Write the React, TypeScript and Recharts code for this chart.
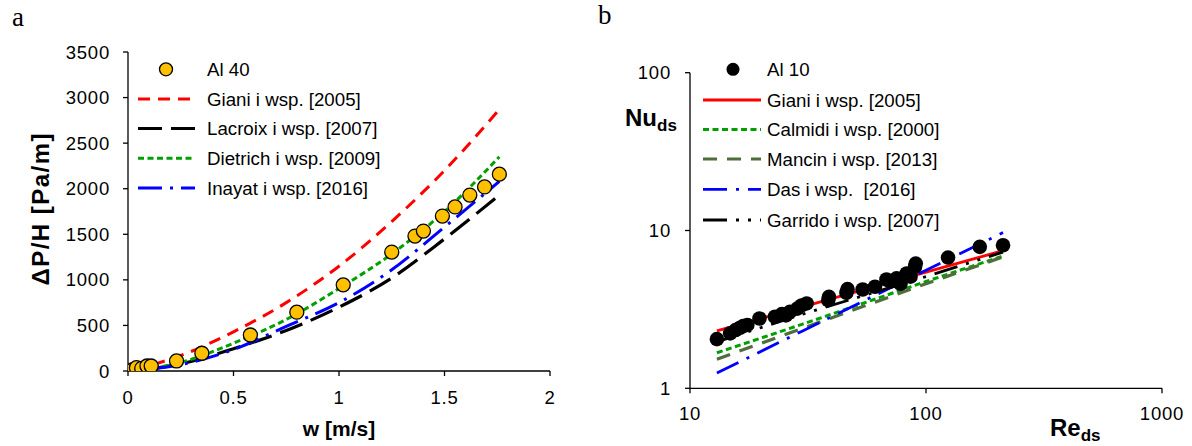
import React from 'react';
import { ComposedChart, Line, Scatter, XAxis, YAxis, Legend, Label } from 'recharts';

const FONT = '"Liberation Sans", Arial, sans-serif';

// ---------- Panel a : pressure drop ----------
const al40W = [0.02, 0.04, 0.065, 0.09, 0.11, 0.23, 0.35, 0.58, 0.8, 1.02, 1.25, 1.36, 1.4, 1.49, 1.55, 1.62, 1.69, 1.76];
const al40DP = [11, 36, 29, 55, 55, 110, 195, 395, 645, 945, 1305, 1480, 1535, 1700, 1800, 1930, 2020, 2160];
const corrW = [0.12, 0.25, 0.5, 0.75, 1.0, 1.25, 1.5, 1.76];
const gianiDP = [70, 170, 430, 750, 1150, 1640, 2200, 2870];
const lacroixDP = [25, 78, 245, 445, 700, 1020, 1450, 1930];
const dietrichDP = [32, 95, 305, 565, 905, 1285, 1750, 2350];
const inayatDP = [22, 70, 235, 490, 750, 1110, 1580, 2080];
const wTicks = [0, 0.5, 1, 1.5, 2];
const dpTicks = [0, 500, 1000, 1500, 2000, 2500, 3000, 3500];

// ---------- Panel b : Nusselt ----------
const al10Re = [13.0, 14.8, 15.6, 16.3, 16.8, 17.5, 19.7, 22.9, 24.5, 25.5, 26.5, 28.5, 29.7, 31.2, 38.5, 38.8, 46.0, 46.5, 53.9, 60.8, 68.0, 70.5, 75.0, 78.0, 82.8, 86.0, 89.8, 90.5, 124, 169, 212];
const al10Nu = [2.05, 2.23, 2.34, 2.42, 2.48, 2.52, 2.77, 2.84, 2.95, 2.9, 3.05, 3.2, 3.35, 3.45, 3.62, 3.8, 4.03, 4.25, 4.23, 4.4, 4.89, 4.75, 4.97, 4.6, 5.34, 5.1, 5.88, 6.17, 6.74, 7.88, 8.06];
const corrRe = [13, 30, 100, 212];
const gianiNu = [2.31, 3.28, 5.45, 7.45];
const calmidiNu = [1.68, 2.55, 4.75, 6.9];
const mancinNu = [1.53, 2.4, 4.6, 6.8];
const dasNu = [1.25, 2.31, 5.6, 9.7];
const garridoNu = [1.97, 2.95, 5.1, 7.3];
const reTicks = [10, 100, 1000];
const nuTicks = [1, 10, 100];

const pts = (xs: number[], ys: number[]) => xs.map((x, i) => ({ x, y: ys[i] }));

const leftSeries = [
  { name: 'Giani i wsp. [2005]', color: '#FF0000', dash: '12 8', width: 3, data: pts(corrW, gianiDP) },
  { name: 'Lacroix i wsp. [2007]', color: '#000000', dash: '24 9', width: 3.2, data: pts(corrW, lacroixDP) },
  { name: 'Dietrich i wsp. [2009]', color: '#00A000', dash: '6 3.5', width: 3, data: pts(corrW, dietrichDP) },
  { name: 'Inayat i wsp. [2016]', color: '#0000FF', dash: '24 8 3 8', width: 3, data: pts(corrW, inayatDP) },
];

const rightSeries = [
  { name: 'Giani i wsp. [2005]', color: '#FF0000', dash: undefined as string | undefined, width: 2.8, data: pts(corrRe, gianiNu) },
  { name: 'Calmidi i wsp. [2000]', color: '#00A000', dash: '6 3.5', width: 3, data: pts(corrRe, calmidiNu) },
  { name: 'Mancin i wsp. [2013]', color: '#4E6E3B', dash: '14 10', width: 3.2, data: pts(corrRe, mancinNu) },
  { name: 'Das i wsp.  [2016]', color: '#0000FF', dash: '24 9 3 9', width: 2.8, data: pts(corrRe, dasNu) },
  { name: 'Garrido i wsp. [2007]', color: '#000000', dash: '24 9 3 9 3 9', width: 2.8, data: pts(corrRe, garridoNu) },
];

const al40 = pts(al40W, al40DP);
const al10 = pts(al10Re, al10Nu);

const tickText = { fontFamily: FONT, fontSize: 18.5, fill: '#000', letterSpacing: 0.8 } as const;

const LeftYTick = (p: any) => (
  <text x={p.x} y={p.y} dy={6.5} textAnchor="end" {...tickText}>{p.payload.value}</text>
);
const LeftXTick = (p: any) => (
  <text x={p.x} y={p.y} dy={18} textAnchor="middle" {...tickText}>{p.payload.value}</text>
);
const RightYTick = (p: any) => (
  <text x={p.x} y={p.y} dy={6.5} textAnchor="end" {...tickText}>{p.payload.value}</text>
);
const RightXTick = (p: any) => (
  <text x={p.x} y={p.y} dy={17} textAnchor="middle" {...tickText}>{p.payload.value}</text>
);

const GoldDot = (p: any) => (
  <circle cx={p.cx} cy={p.cy} r={7} fill="#FFC000" stroke="#000" strokeWidth={1.3} />
);
const BlackDot = (p: any) => <circle cx={p.cx} cy={p.cy} r={7.3} fill="#000" />;

const legendText = { fontFamily: FONT, fontSize: 18.7, fill: '#000' } as const;

const LeftLegend = () => {
  const rows = [19.3, 49, 78.5, 108.3, 138];
  return (
    <svg width={260} height={160} style={{ overflow: 'visible', display: 'block' }}>
      <circle cx={36} cy={rows[0]} r={6.5} fill="#FFC000" stroke="#000" strokeWidth={1.3} />
      <text x={77} y={rows[0] + 6.5} {...legendText}>Al 40</text>
      {leftSeries.map((s, i) => (
        <g key={s.name}>
          <line x1={8} x2={65} y1={rows[i + 1]} y2={rows[i + 1]} stroke={s.color} strokeWidth={s.width} strokeDasharray={s.dash} />
          <text x={77} y={rows[i + 1] + 6.5} {...legendText}>{s.name}</text>
        </g>
      ))}
    </svg>
  );
};

const RightLegend = () => {
  const rows = [19.3, 50, 79.5, 109, 139.3, 170];
  return (
    <svg width={320} height={190} style={{ overflow: 'visible', display: 'block' }}>
      <circle cx={33} cy={rows[0]} r={6.5} fill="#000" />
      <text x={67} y={rows[0] + 6.5} {...legendText}>Al 10</text>
      {rightSeries.map((s, i) => (
        <g key={s.name}>
          <line x1={3} x2={61} y1={rows[i + 1]} y2={rows[i + 1]} stroke={s.color} strokeWidth={s.width} strokeDasharray={s.dash} />
          <text x={67} y={rows[i + 1] + 6.5} {...legendText} style={{ whiteSpace: 'pre' }}>{s.name}</text>
        </g>
      ))}
    </svg>
  );
};

export default function App() {
  return (
    <div style={{ position: 'absolute', left: 0, top: 0, width: 1192, height: 446, background: '#fff', overflow: 'hidden' }}>
      <div style={{ position: 'absolute', left: 12, top: 2, fontFamily: '"Liberation Serif", "Times New Roman", serif', fontSize: 27 }}>a</div>
      <div style={{ position: 'absolute', left: 598, top: 0, fontFamily: '"Liberation Serif", "Times New Roman", serif', fontSize: 27 }}>b</div>

      <div style={{ position: 'absolute', left: 0, top: 0 }}>
        <ComposedChart width={600} height={446} margin={{ top: 52, right: 50, left: 68, bottom: 45 }}>
          <XAxis dataKey="x" type="number" domain={[0, 2]} ticks={wTicks} height={30} tickSize={5} tickMargin={10}
            axisLine={{ stroke: '#000', strokeWidth: 1.3 }} tickLine={{ stroke: '#000', strokeWidth: 1.3 }} tick={LeftXTick} allowDataOverflow>
            <Label content={() => (
              <text x={339} y={436} textAnchor="middle" fontFamily={FONT} fontWeight="bold" fontSize={21} fill="#000">w [m/s]</text>
            )} />
          </XAxis>
          <YAxis dataKey="y" type="number" domain={[0, 3500]} ticks={dpTicks} width={60} tickSize={5} tickMargin={13}
            axisLine={{ stroke: '#000', strokeWidth: 1.3 }} tickLine={{ stroke: '#000', strokeWidth: 1.3 }} tick={LeftYTick} allowDataOverflow>
            <Label content={() => (
              <text x={40} y={209.5} transform="rotate(-90, 40, 209.5)" textAnchor="middle" dominantBaseline="central"
                fontFamily={FONT} fontWeight="bold" fontSize={24} fill="#000" textLength={152} lengthAdjust="spacing">ΔP/H [Pa/m]</text>
            )} />
          </YAxis>
          {leftSeries.map((s) => (
            <Line key={s.name} data={s.data} dataKey="y" name={s.name} type="monotone" stroke={s.color} strokeWidth={s.width}
              strokeDasharray={s.dash} dot={false} activeDot={false} isAnimationActive={false} legendType="none" />
          ))}
          <Scatter data={al40} name="Al 40" shape={GoldDot} isAnimationActive={false} />
          <Legend layout="vertical" align="center" verticalAlign="middle" content={LeftLegend}
            wrapperStyle={{ left: 130, top: 50, width: 260, height: 160 }} />
        </ComposedChart>
      </div>

      <div style={{ position: 'absolute', left: 600, top: 0 }}>
        <ComposedChart width={592} height={446} margin={{ top: 72.7, right: 30, left: 30, bottom: 27.7 }}>
          <XAxis dataKey="x" type="number" scale="log" domain={[10, 1000]} ticks={reTicks} height={30} tickSize={5} tickMargin={10}
            axisLine={{ stroke: '#000', strokeWidth: 1.3 }} tickLine={{ stroke: '#000', strokeWidth: 1.3 }} tick={RightXTick} allowDataOverflow>
            <Label content={() => (
              <text x={450} y={436} fontFamily={FONT} fontWeight="bold" fontSize={24} fill="#000">
                Re<tspan fontSize={17} dy={5}>ds</tspan>
              </text>
            )} />
          </XAxis>
          <YAxis dataKey="y" type="number" scale="log" domain={[1, 100]} ticks={nuTicks} width={60} tickSize={5} tickMargin={14}
            axisLine={{ stroke: '#000', strokeWidth: 1.3 }} tickLine={{ stroke: '#000', strokeWidth: 1.3 }} tick={RightYTick} allowDataOverflow>
            <Label content={() => (
              <text x={25} y={126} fontFamily={FONT} fontWeight="bold" fontSize={24} fill="#000">
                Nu<tspan fontSize={17} dy={4.5}>ds</tspan>
              </text>
            )} />
          </YAxis>
          {rightSeries.map((s) => (
            <Line key={s.name} data={s.data} dataKey="y" name={s.name} type="linear" stroke={s.color} strokeWidth={s.width}
              strokeDasharray={s.dash} dot={false} activeDot={false} isAnimationActive={false} legendType="none" />
          ))}
          <Scatter data={al10} name="Al 10" shape={BlackDot} isAnimationActive={false} />
          <Legend layout="vertical" align="center" verticalAlign="middle" content={RightLegend}
            wrapperStyle={{ left: 100, top: 50, width: 320, height: 190 }} />
        </ComposedChart>
      </div>
    </div>
  );
}
